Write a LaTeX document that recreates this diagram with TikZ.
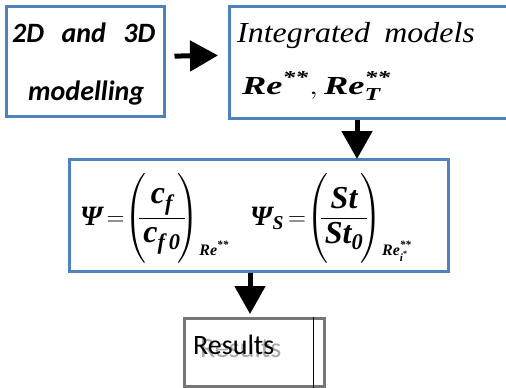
\documentclass[tikz,border=0pt]{standalone}
\usepackage{fontspec}
\usepackage{amsmath}
\usepackage{graphicx}
\setmainfont{Liberation Serif}
\newfontfamily\carl{Carlito}
\newfontfamily\tnr{Liberation Serif}
\usetikzlibrary{arrows.meta}
\definecolor{boxblue}{RGB}{79,129,189}
\definecolor{resgray}{RGB}{118,118,118}
\newcommand{\bi}[1]{\text{\tnr\bfseries\itshape #1}}
\newcommand{\fr}[1]{\text{\fontsize{32}{32}\selectfont$#1$}}
\newcommand{\tallp}{\vrule height 52pt depth 38pt width 0pt}
\newcommand{\lowsub}[1]{\raisebox{-30pt}{\fontsize{16}{16}\selectfont$#1$}}
\begin{document}
\begin{tikzpicture}[x=1pt,y=-1pt,
  bluebox/.style={draw=boxblue,line width=2.5pt,inner sep=0pt,anchor=north west},
  bigarrow/.style={line width=5pt,-{Triangle[length=28pt,width=30pt]}},
  txt/.style={inner sep=0pt,anchor=base west}]
\useasboundingbox (0,0) rectangle (506,388);
\fill[white] (0,0) rectangle (506,388);
% boxes
\node[bluebox,minimum width=158pt,minimum height=110pt] (b1) at (5,5) {};
\node[bluebox,minimum width=290pt,minimum height=112pt] (b2) at (228,5) {};
\node[bluebox,minimum width=379pt,minimum height=112pt] (b3) at (68,158) {};
\node[draw=resgray,line width=2.5pt,inner sep=0pt,anchor=north west,minimum width=140pt,minimum height=68pt] (b4) at (183,317) {};
\coordinate (il) at (313,0);
\draw[line width=0.8pt] (b4.north -| il) -- (b4.south -| il);
% texts
\node[txt,font=\carl\bfseries\itshape\fontsize{28}{28}\selectfont] (t1) at (12,42) {\makebox[143pt][s]{2D and 3D}};
\node[txt,font=\carl\bfseries\itshape\fontsize{28}{28}\selectfont] (t2) at (28,100) {modelling};
\node[txt,font=\tnr\itshape\fontsize{29}{29}\selectfont] (t3) at (237,42) {\scalebox{1.1}[1]{\makebox[216pt][s]{Integrated models}}};
\node[txt,font=\fontsize{26}{26}\selectfont] (t4) at (242,94) {\scalebox{1.4}[1]{$\bi{Re}^{\bi{**}},\bi{Re}_{\bi{T}}^{\bi{**}}$}};
\node[txt,font=\fontsize{28}{30}\selectfont] (f1) at (80,225) {$\bi{Ψ}\,{=}\!\left(\tallp\!\!\dfrac{\,\fr{\bi{c}_{\bi{f}}}\,}{\,\fr{\bi{c}_{\bi{f\,0}}}\,}\!\!\right)$\lowsub{\bi{Re}^{\bi{**}}}};
\node[txt,font=\fontsize{28}{30}\selectfont] (f2) at (250,225) {$\bi{Ψ}_{\bi{S}}\,{=}\!\left(\tallp\!\!\dfrac{\fr{\bi{St}}}{\,\fr{\bi{St}_{\bi{0}}}\,}\!\!\right)$\lowsub{\bi{Re}^{\bi{**}}_{\bi{i}^{\bi{*}}}}};
\node[txt,font=\carl\fontsize{28}{28}\selectfont] (t5) at (193,354) {\rlap{\hspace{7pt}\raisebox{-3pt}{\color{black!35}Results}}Results};
% arrows
\draw[bigarrow,shorten <=9pt,shorten >=10pt] ([yshift=5pt]b1.east) -- ([yshift=7pt]b2.west);
\coordinate (a2) at (357,0);
\draw[bigarrow,shorten >=-1pt] (b2.south -| a2) -- (b3.north -| a2);
\coordinate (a3) at (250,0);
\draw[bigarrow,shorten >=3pt] (b3.south -| a3) -- (b4.north -| a3);
\end{tikzpicture}
\end{document}
